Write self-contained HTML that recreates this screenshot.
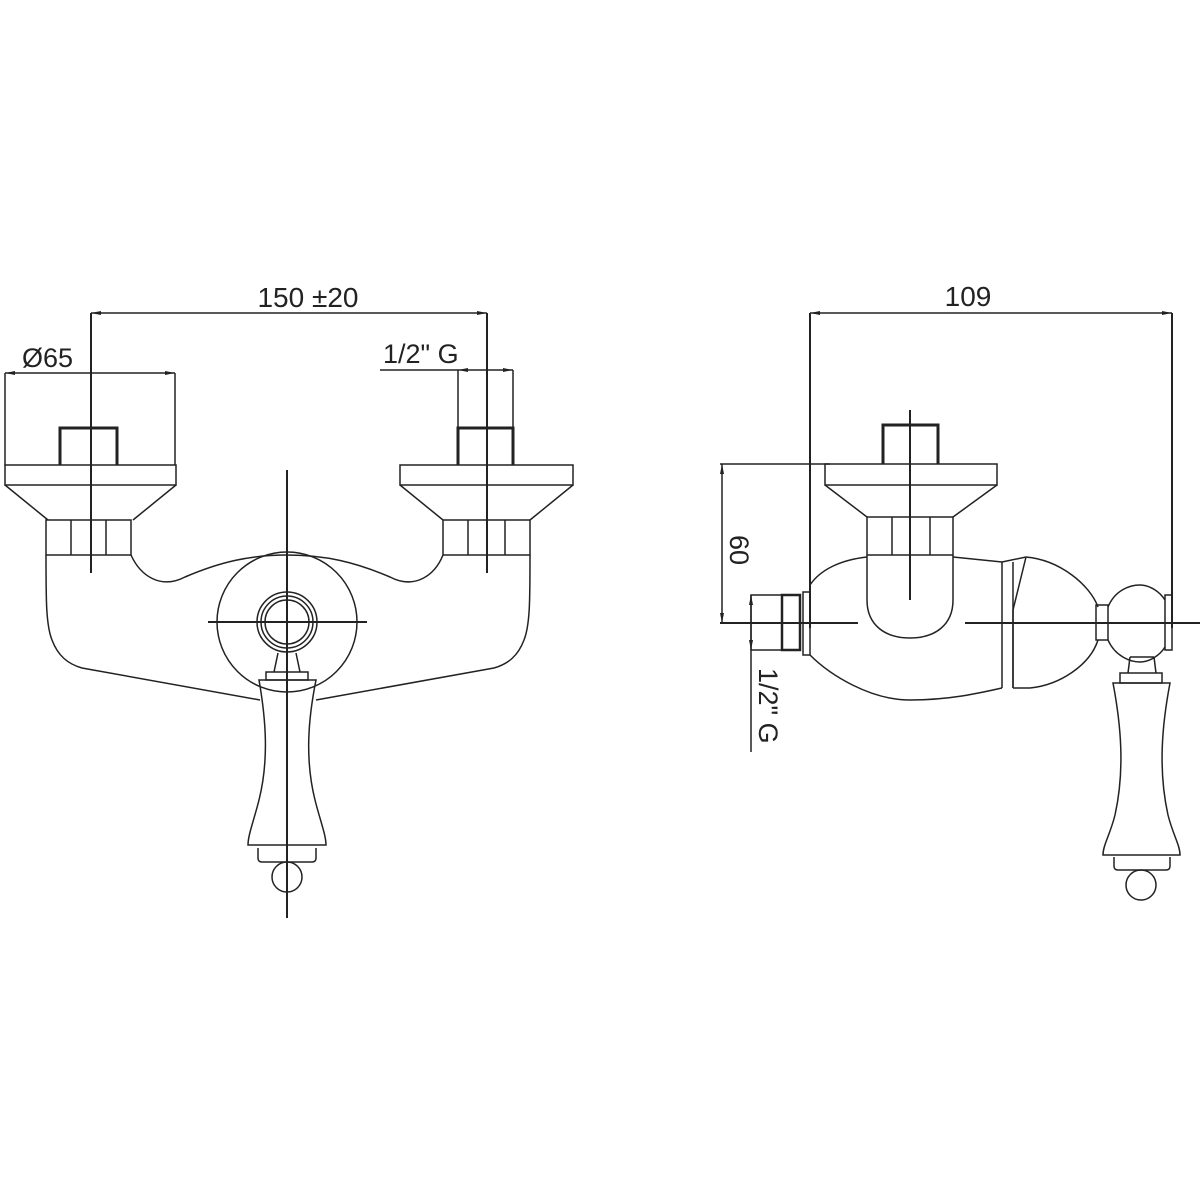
<!DOCTYPE html>
<html><head><meta charset="utf-8"><style>
html,body{margin:0;padding:0;background:#fff;}
svg{display:block}
text{font-family:"Liberation Sans",sans-serif;fill:#222;}
</style></head><body>
<svg width="1200" height="1200" viewBox="0 0 1200 1200" xmlns="http://www.w3.org/2000/svg">
<defs>
<marker id="a" viewBox="0 0 10 6" refX="10" refY="3" markerWidth="10" markerHeight="6" orient="auto-start-reverse" markerUnits="userSpaceOnUse"><path d="M0,1 L10,3 L0,5 z" fill="#222"/></marker>
</defs>
<g fill="none" stroke="#222" stroke-width="1.5">
<line x1="91" y1="313" x2="487" y2="313" marker-start="url(#a)" marker-end="url(#a)"/>
<line x1="91" y1="313" x2="91" y2="573" stroke-width="2"/>
<line x1="487" y1="313" x2="487" y2="573" stroke-width="2"/>
<line x1="5" y1="373" x2="175" y2="373" marker-start="url(#a)" marker-end="url(#a)"/>
<line x1="5" y1="373" x2="5" y2="465"/>
<line x1="175" y1="373" x2="175" y2="465"/>
<line x1="380" y1="370" x2="458" y2="370"/>
<line x1="458" y1="370" x2="513" y2="370" marker-start="url(#a)" marker-end="url(#a)"/>
<line x1="458" y1="370" x2="458" y2="428"/>
<line x1="513" y1="370" x2="513" y2="428"/>
<path d="M60,465 V428 H117 V465" stroke-width="3"/>
<rect x="5" y="465" width="171" height="20"/>
<path d="M5,485 L48,520 M176,485 L133,520"/>
<rect x="46" y="520" width="85" height="35"/>
<path d="M71,520 V555 M106,520 V555"/>
<path d="M458,465 V428 H513 V465" stroke-width="3"/>
<rect x="400" y="465" width="173" height="20"/>
<path d="M400,485 L443,520 M573,485 L530,520"/>
<rect x="443" y="520" width="87" height="35"/>
<path d="M468,520 V555 M505,520 V555"/>
<path d="M46,555 C46,600 46,625 52,640 C58,656 68,664 82,668 L260,700"/>
<path d="M530,555 C530,600 530,625 524,640 C518,656 508,664 494,668 L316,700"/>
<path d="M131,555 C140,575 160,590 185,577 C220,562 250,555 287,555 C325,555 355,562 390,577 C415,590 435,575 443,555"/>
<circle cx="287" cy="622" r="70"/>
<circle cx="287" cy="622" r="30"/>
<circle cx="287" cy="622" r="26"/>
<circle cx="287" cy="622" r="22"/>
<line x1="208" y1="622" x2="367" y2="622" stroke-width="2"/>
<line x1="287" y1="470" x2="287" y2="918" stroke-width="2"/>
<path d="M278,653 L274,672 M296,653 L300,672"/>
<rect x="266" y="672" width="42" height="8"/>
<path d="M259,680 H316 C308,720 305,760 315,800 C320,820 326,835 326,845 H248 C248,835 254,820 259,800 C269,760 266,720 259,680 Z"/>
<path d="M258,848 V858 Q258,862 262,862 H312 Q316,862 316,858 V848"/>
<circle cx="287" cy="877" r="15"/>

<line x1="810" y1="313" x2="1172" y2="313" marker-start="url(#a)" marker-end="url(#a)"/>
<line x1="810" y1="313" x2="810" y2="628" stroke-width="2"/>
<line x1="1172" y1="313" x2="1172" y2="628" stroke-width="2"/>
<line x1="722" y1="464" x2="722" y2="623" marker-start="url(#a)" marker-end="url(#a)"/>
<line x1="720" y1="464" x2="830" y2="464"/>
<line x1="720" y1="623" x2="858" y2="623" stroke-width="2"/>
<line x1="965" y1="623" x2="1200" y2="623" stroke-width="2"/>
<line x1="751" y1="595" x2="751" y2="650" marker-start="url(#a)" marker-end="url(#a)"/>
<line x1="751" y1="650" x2="751" y2="752"/>
<path d="M883,464 V425 H938 V464" stroke-width="3"/>
<rect x="825" y="464" width="172" height="21"/>
<path d="M825,485 L867,517 M997,485 L953,517"/>
<rect x="867" y="517" width="86" height="38"/>
<path d="M892,517 V555 M930,517 V555"/>
<line x1="910" y1="410" x2="910" y2="600" stroke-width="2"/>
<path d="M867,555 V600 C867,625 885,638 910,638 C935,638 953,625 953,600 V555"/>
<path d="M867,557 C840,560 820,570 810,585 M810,655 C830,675 870,700 910,700 C950,700 980,693 1002,688"/>
<path d="M953,557 L1002,562 L1026,557"/>
<path d="M1002,562 V688 M1013,562 V688 M1013,688 H1030"/>
<path d="M1026,557 L1013,610 L1013,688 M1026,557 C1060,560 1090,585 1098,607 M1098,640 C1090,665 1060,685 1030,688"/>
<rect x="751" y="595" width="31" height="55"/>
<rect x="782" y="595" width="18" height="55" stroke-width="2.5"/>
<rect x="803" y="592" width="7" height="63"/>
<rect x="1096" y="605" width="12" height="35"/>
<path d="M1108,607 C1115,590 1130,585 1140,585 C1150,585 1160,592 1165,600 M1108,640 C1115,656 1130,662 1140,662 C1150,662 1160,655 1165,647"/>
<rect x="1165" y="595" width="7" height="55"/>
<path d="M1130,657 L1128,673 M1154,657 L1156,673 M1130,657 H1154"/>
<rect x="1120" y="673" width="42" height="10"/>
<path d="M1113,683 H1170 C1162,725 1158,770 1168,815 C1173,835 1180,845 1180,855 H1103 C1103,845 1110,835 1115,815 C1125,770 1121,725 1113,683 Z"/>
<path d="M1114,857 V866 Q1114,870 1118,870 H1166 Q1170,870 1170,866 V857"/>
<circle cx="1141" cy="885" r="15"/>
</g>
<text x="308" y="307" font-size="28" text-anchor="middle">150 ±20</text>
<text x="22" y="367" font-size="27">Ø65</text>
<text x="383" y="363" font-size="27">1/2" G</text>
<text x="968" y="306" font-size="28" text-anchor="middle">109</text>
<text transform="translate(730,550) rotate(90)" font-size="27" text-anchor="middle">60</text>
<text transform="translate(759,668) rotate(90)" font-size="27">1/2" G</text>
</svg>
</body></html>
